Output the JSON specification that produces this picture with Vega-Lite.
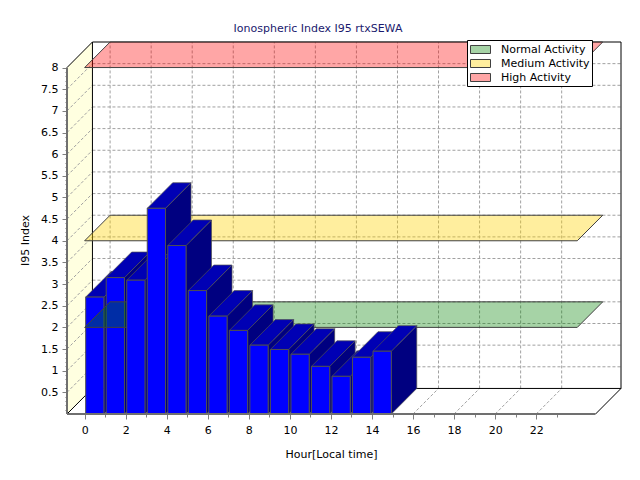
{
  "$schema": "https://vega.github.io/schema/vega-lite/v6.json",
  "description": "Ionospheric index I95, drawn as a pseudo-3D bar chart with activity bands",
  "width": 554,
  "height": 372,
  "autosize": {"type": "none"},
  "padding": {"left": 67, "top": 42, "right": 19, "bottom": 66},
  "background": "white",
  "title": {
    "text": "Ionospheric Index I95 rtxSEWA",
    "font": "DejaVu Sans", "fontSize": 11, "fontWeight": "normal",
    "color": "#1a1a6e", "offset": 6, "dx": -26
  },
  "params": [
    {"name": "DX", "value": 1.24},
    {"name": "DY", "value": 0.59},
    {"name": "X0", "value": -0.86},
    {"name": "FR", "value": 24.89},
    {"name": "XMAX", "value": 26.13}
  ],
  "datasets": {
    "bars": [
      {"hour": 0, "value": 2.70},
      {"hour": 1, "value": 3.15},
      {"hour": 2, "value": 3.09},
      {"hour": 3, "value": 4.75},
      {"hour": 4, "value": 3.89},
      {"hour": 5, "value": 2.85},
      {"hour": 6, "value": 2.26},
      {"hour": 7, "value": 1.93},
      {"hour": 8, "value": 1.59},
      {"hour": 9, "value": 1.49},
      {"hour": 10, "value": 1.38},
      {"hour": 11, "value": 1.10},
      {"hour": 12, "value": 0.87},
      {"hour": 13, "value": 1.31},
      {"hour": 14, "value": 1.45}
    ],
    "bands": [
      {"band": "Normal Activity", "level": 2},
      {"band": "Medium Activity", "level": 4},
      {"band": "High Activity", "level": 8}
    ],
    "ylines": [
      {"v": 0.5}, {"v": 1}, {"v": 1.5}, {"v": 2}, {"v": 2.5}, {"v": 3}, {"v": 3.5}, {"v": 4},
      {"v": 4.5}, {"v": 5}, {"v": 5.5}, {"v": 6}, {"v": 6.5}, {"v": 7}, {"v": 7.5}
    ],
    "xlines": [
      {"h": 0}, {"h": 2}, {"h": 4}, {"h": 6}, {"h": 8}, {"h": 10},
      {"h": 12}, {"h": 14}, {"h": 16}, {"h": 18}, {"h": 20}, {"h": 22}
    ],
    "edges": [
      {"edge": "wall top"}, {"edge": "wall bottom"}, {"edge": "floor right"}
    ],
    "front": [
      {"axis": "y"}, {"axis": "x"}
    ]
  },
  "encoding": {
    "x": {
      "field": "x", "type": "quantitative",
      "scale": {"domain": [-0.86, 26.13], "nice": false, "zero": false},
      "axis": {
        "values": [0, 1, 2, 3, 4, 5, 6, 7, 8, 9, 10, 11, 12, 13, 14, 15, 16, 17, 18, 19, 20, 21, 22, 23],
        "labelExpr": "datum.value % 2 == 0 ? datum.label : ''",
        "title": "Hour[Local time]",
        "grid": false, "domain": false,
        "tickColor": "#808080",
        "tickSize": {"condition": {"test": "datum.value % 2 == 0", "value": 5}, "value": 3},
        "labelPadding": 5, "labelFlush": false,
        "titleX": 264, "titleY": 40, "titleBaseline": "middle", "titleAlign": "center"
      }
    },
    "y": {
      "field": "y", "type": "quantitative", "stack": null,
      "scale": {"domain": [0, 8.59], "nice": false, "zero": false},
      "axis": {
        "values": [0.1, 0.2, 0.3, 0.4, 0.5, 0.6, 0.7, 0.8, 0.9, 1, 1.1, 1.2, 1.3, 1.4, 1.5, 1.6, 1.7, 1.8, 1.9, 2,
                   2.1, 2.2, 2.3, 2.4, 2.5, 2.6, 2.7, 2.8, 2.9, 3, 3.1, 3.2, 3.3, 3.4, 3.5, 3.6, 3.7, 3.8, 3.9, 4,
                   4.1, 4.2, 4.3, 4.4, 4.5, 4.6, 4.7, 4.8, 4.9, 5, 5.1, 5.2, 5.3, 5.4, 5.5, 5.6, 5.7, 5.8, 5.9, 6,
                   6.1, 6.2, 6.3, 6.4, 6.5, 6.6, 6.7, 6.8, 6.9, 7, 7.1, 7.2, 7.3, 7.4, 7.5, 7.6, 7.7, 7.8, 7.9, 8],
        "labelExpr": "round(datum.value * 10) % 5 == 0 ? format(datum.value, '.1~f') : ''",
        "title": "I95 Index",
        "grid": false, "domain": false,
        "tickColor": "#808080",
        "tickSize": {"condition": {"test": "round(datum.value * 10) % 5 == 0", "value": 5}, "value": 2},
        "labelPadding": 4, "labelFlush": false,
        "titleX": -42, "titleY": 198, "titleBaseline": "middle", "titleAlign": "center", "titleAngle": -90
      }
    }
  },
  "layer": [
    {
      "data": {"values": [{"d": 0}, {"d": 1}]},
      "transform": [
        {"calculate": "X0 + datum.d * DX", "as": "x"},
        {"calculate": "datum.d * DY", "as": "y"},
        {"calculate": "8 + datum.d * DY", "as": "y2"}
      ],
      "mark": {"type": "area", "fill": "#FFFFE0", "stroke": null},
      "encoding": {"y2": {"field": "y2"}}
    },
    {
      "data": {"name": "ylines"},
      "transform": [
        {"calculate": "X0", "as": "x"},
        {"calculate": "X0 + DX", "as": "x2"},
        {"calculate": "datum.v", "as": "y"},
        {"calculate": "datum.v + DY", "as": "y2"}
      ],
      "mark": {"type": "rule", "color": "#A0A0A0", "strokeDash": [3, 2], "strokeWidth": 1},
      "encoding": {"x2": {"field": "x2"}, "y2": {"field": "y2"}}
    },
    {
      "data": {"name": "ylines"},
      "transform": [
        {"calculate": "X0 + DX", "as": "x"},
        {"calculate": "XMAX", "as": "x2"},
        {"calculate": "datum.v + DY", "as": "y"}
      ],
      "mark": {"type": "rule", "color": "#A0A0A0", "strokeDash": [3, 2], "strokeWidth": 1},
      "encoding": {"x2": {"field": "x2"}, "y2": {"field": "y"}}
    },
    {
      "data": {"name": "xlines"},
      "transform": [
        {"calculate": "datum.h", "as": "x"},
        {"calculate": "datum.h + DX", "as": "x2"},
        {"calculate": "0", "as": "y"},
        {"calculate": "DY", "as": "y2"}
      ],
      "mark": {"type": "rule", "color": "#A0A0A0", "strokeDash": [3, 2], "strokeWidth": 1},
      "encoding": {"x2": {"field": "x2"}, "y2": {"field": "y2"}}
    },
    {
      "data": {"name": "xlines"},
      "transform": [
        {"calculate": "datum.h + DX", "as": "x"},
        {"calculate": "DY", "as": "y"},
        {"calculate": "8 + DY", "as": "y2"}
      ],
      "mark": {"type": "rule", "color": "#A0A0A0", "strokeDash": [3, 2], "strokeWidth": 1},
      "encoding": {"x2": {"field": "x"}, "y2": {"field": "y2"}}
    },
    {
      "data": {"values": [{}]},
      "transform": [
        {"calculate": "X0 + DX", "as": "x"},
        {"calculate": "XMAX", "as": "x2"},
        {"calculate": "DY", "as": "y"},
        {"calculate": "8 + DY", "as": "y2"}
      ],
      "mark": {"type": "rect", "fillOpacity": 0, "stroke": "black", "strokeWidth": 1},
      "encoding": {"x2": {"field": "x2"}, "y2": {"field": "y2"}}
    },
    {
      "data": {"name": "edges"},
      "transform": [
        {"calculate": "datum.edge == 'floor right' ? FR : X0", "as": "x"},
        {"calculate": "datum.x + DX", "as": "x2"},
        {"calculate": "datum.edge == 'wall top' ? 8 : 0", "as": "y"},
        {"calculate": "datum.y + DY", "as": "y2"}
      ],
      "mark": {"type": "rule", "color": "black", "strokeWidth": 1},
      "encoding": {"x2": {"field": "x2"}, "y2": {"field": "y2"}}
    },
    {
      "data": {"name": "bars"},
      "transform": [
        {"filter": "datum.hour < 2"},
        {"calculate": "[0, 1]", "as": "k"},
        {"flatten": ["k"]},
        {"calculate": "datum.hour + 0.94 + datum.k * DX", "as": "x"},
        {"calculate": "datum.k * DY", "as": "y"},
        {"calculate": "datum.value + datum.k * DY", "as": "y2"}
      ],
      "mark": {"type": "area", "fill": "#000080", "stroke": "#505050", "strokeWidth": 0.7},
      "encoding": {"y2": {"field": "y2"}, "detail": {"field": "hour"}}
    },
    {
      "data": {"name": "bars"},
      "transform": [
        {"filter": "datum.hour < 2"},
        {"calculate": "[0, 1, 2, 3]", "as": "k"},
        {"flatten": ["k"]},
        {"calculate": "[0, 0.89, DX, 0.89 + DX][datum.k]", "as": "off"},
        {"calculate": "datum.hour + 0.05 + datum.off", "as": "x"},
        {"calculate": "datum.value + DY * max(0, datum.off - 0.89) / DX", "as": "y"},
        {"calculate": "datum.value + DY * min(1, datum.off / DX)", "as": "y2"}
      ],
      "mark": {"type": "area", "fill": "#0000B4", "stroke": "#505050", "strokeWidth": 0.7},
      "encoding": {"y2": {"field": "y2"}, "detail": {"field": "hour"}}
    },
    {
      "data": {"name": "bars"},
      "transform": [
        {"filter": "datum.hour < 2"},
        {"calculate": "datum.hour + 0.05", "as": "x"},
        {"calculate": "datum.hour + 0.94", "as": "x2"},
        {"calculate": "0", "as": "y"},
        {"calculate": "datum.value", "as": "y2"}
      ],
      "mark": {"type": "rect", "fill": "#0000FF", "stroke": "#505050", "strokeWidth": 1},
      "encoding": {"x2": {"field": "x2"}, "y2": {"field": "y2"}}
    },
    {
      "data": {"name": "bands"},
      "transform": [
        {"calculate": "[0, 1, 2, 3]", "as": "k"},
        {"flatten": ["k"]},
        {"calculate": "[0, DX, 24, 24 + DX][datum.k]", "as": "x"},
        {"calculate": "datum.level + DY * max(0, datum.x - 24) / DX", "as": "y"},
        {"calculate": "datum.level + DY * min(1, datum.x / DX)", "as": "y2"}
      ],
      "mark": {"type": "area", "stroke": "#404040", "strokeWidth": 1},
      "encoding": {
        "y2": {"field": "y2"},
        "detail": {"field": "band"},
        "color": {
          "field": "band", "type": "nominal",
          "scale": {
            "domain": ["Normal Activity", "Medium Activity", "High Activity"],
            "range": ["rgba(0,128,0,0.35)", "rgba(255,210,0,0.38)", "rgba(255,0,0,0.35)"]
          },
          "legend": {
            "orient": "none", "legendX": 400, "legendY": -2,
            "title": null,
            "fillColor": "white", "strokeColor": "black", "padding": 2,
            "symbolType": "M-1.5,-0.6H1.5V0.6H-1.5Z", "symbolSize": 178,
            "symbolOffset": 4,
            "symbolStrokeColor": "#404040", "symbolStrokeWidth": 1,
            "labelFont": "DejaVu Sans", "labelFontSize": 11, "labelColor": "black",
            "labelOffset": 13, "rowPadding": 0
          }
        }
      }
    },
    {
      "data": {"name": "bars"},
      "transform": [
        {"filter": "datum.hour >= 2"},
        {"calculate": "[0, 1]", "as": "k"},
        {"flatten": ["k"]},
        {"calculate": "datum.hour + 0.94 + datum.k * DX", "as": "x"},
        {"calculate": "datum.k * DY", "as": "y"},
        {"calculate": "datum.value + datum.k * DY", "as": "y2"}
      ],
      "mark": {"type": "area", "fill": "#000080", "stroke": "#505050", "strokeWidth": 0.7},
      "encoding": {"y2": {"field": "y2"}, "detail": {"field": "hour"}}
    },
    {
      "data": {"name": "bars"},
      "transform": [
        {"filter": "datum.hour >= 2"},
        {"calculate": "[0, 1, 2, 3]", "as": "k"},
        {"flatten": ["k"]},
        {"calculate": "[0, 0.89, DX, 0.89 + DX][datum.k]", "as": "off"},
        {"calculate": "datum.hour + 0.05 + datum.off", "as": "x"},
        {"calculate": "datum.value + DY * max(0, datum.off - 0.89) / DX", "as": "y"},
        {"calculate": "datum.value + DY * min(1, datum.off / DX)", "as": "y2"}
      ],
      "mark": {"type": "area", "fill": "#0000B4", "stroke": "#505050", "strokeWidth": 0.7},
      "encoding": {"y2": {"field": "y2"}, "detail": {"field": "hour"}}
    },
    {
      "data": {"name": "bars"},
      "transform": [
        {"filter": "datum.hour >= 2"},
        {"calculate": "datum.hour + 0.05", "as": "x"},
        {"calculate": "datum.hour + 0.94", "as": "x2"},
        {"calculate": "0", "as": "y"},
        {"calculate": "datum.value", "as": "y2"}
      ],
      "mark": {"type": "rect", "fill": "#0000FF", "stroke": "#505050", "strokeWidth": 1},
      "encoding": {"x2": {"field": "x2"}, "y2": {"field": "y2"}}
    },
    {
      "data": {"name": "front"},
      "transform": [
        {"calculate": "X0", "as": "x"},
        {"calculate": "datum.axis == 'x' ? FR : X0", "as": "x2"},
        {"calculate": "0", "as": "y"},
        {"calculate": "datum.axis == 'y' ? 8 : 0", "as": "y2"}
      ],
      "mark": {"type": "rule", "color": "#707070", "strokeWidth": 2},
      "encoding": {"x2": {"field": "x2"}, "y2": {"field": "y2"}}
    }
  ],
  "config": {
    "font": "DejaVu Sans",
    "view": {"stroke": null},
    "axis": {
      "labelFont": "DejaVu Sans", "labelFontSize": 11, "labelColor": "black",
      "titleFont": "DejaVu Sans", "titleFontSize": 11, "titleFontWeight": "normal", "titleColor": "black"
    }
  }
}
